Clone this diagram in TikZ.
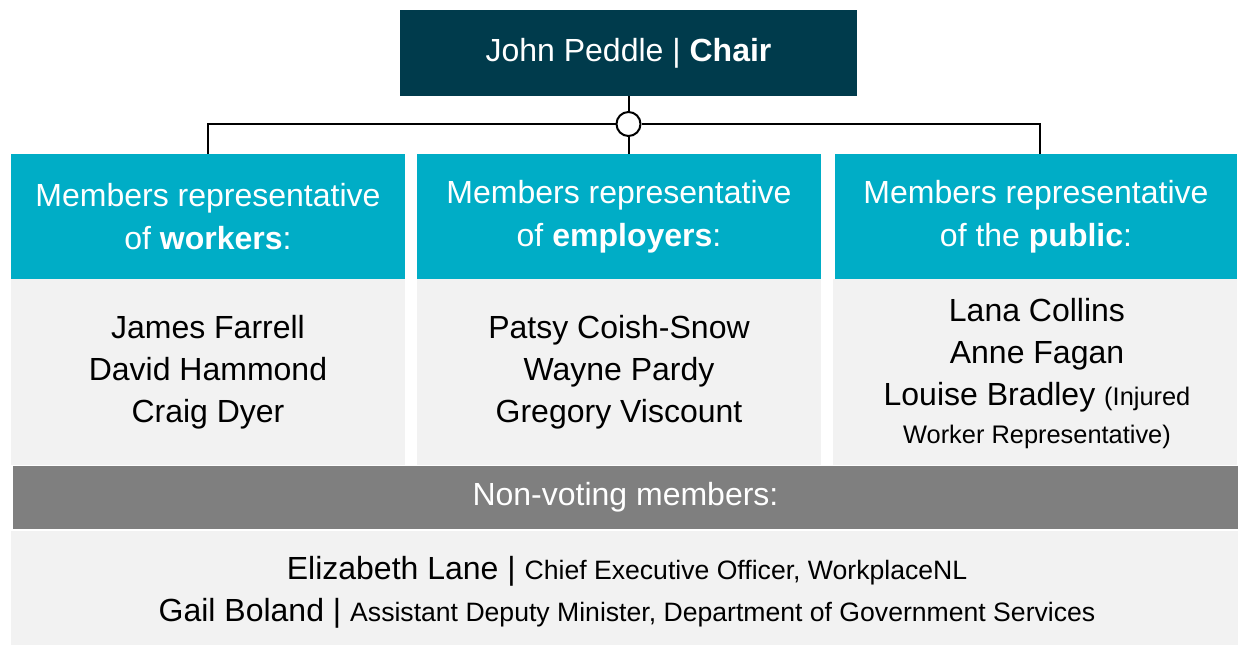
\documentclass[tikz,border=0pt]{standalone}
\usepackage{fontspec}
\setmainfont{Liberation Sans}
\usepackage{tikz}
\usetikzlibrary{
    positioning,
    calc
}

\definecolor{chairblue}{RGB}{0,59,76}
\definecolor{groupteal}{RGB}{0,173,198}
\definecolor{bargray}{RGB}{127,127,127}
\definecolor{panelgray}{RGB}{242,242,242}

\newcommand{\bigtext}{\fontsize{16}{21}\selectfont}
\newcommand{\smalltext}{\fontsize{12.7}{17}\selectfont}
\newcommand{\roletext}{\fontsize{13.3}{17}\selectfont}

\begin{document}
\begin{tikzpicture}[
  x=0.5pt,
  y=-0.5pt,
  every node/.style={align=center},
  chairbox/.style={
    fill=chairblue,
    text=white,
    font=\bigtext,
    minimum width=228.5pt,
    minimum height=43pt,
    inner sep=0pt
  },
  headbox/.style={
    fill=groupteal,
    text=white,
    font=\fontsize{16}{21.5}\selectfont,
    minimum height=62.5pt,
    inner sep=0pt
  },
  namebox/.style={
    fill=panelgray,
    text=black,
    font=\bigtext,
    minimum height=93pt,
    inner sep=0pt
  },
  barbox/.style={
    fill=bargray,
    text=white,
    font=\bigtext,
    minimum width=612.5pt,
    minimum height=31.5pt,
    inner sep=0pt
  },
  hubdot/.style={
    circle,
    draw,
    fill=white,
    line width=1pt,
    minimum size=12pt,
    inner sep=0pt
  },
  wire/.style={line width=1pt}
]
  \useasboundingbox (0,0) rectangle (1238,645);

  % Chair and the connector hub under it.
  \node[chairbox] (chair) at (628.5,53) {John Peddle | \textbf{Chair}};
  \node[hubdot] (hub) at (628.5,124) {};

  % Three voting groups: heading and member names.
  \node[headbox, minimum width=197pt] (workers) at (208,216.5)
    {Members representative\\of \textbf{workers}:};
  \node[headbox, minimum width=202pt] (employers) at (619,216.5)
    {Members representative\\of \textbf{employers}:};
  \node[headbox, minimum width=201pt] (public) at (1036,216.5)
    {Members representative\\of the \textbf{public}:};

  \node[namebox, minimum width=197pt] (workernames) at (208,372)
    {James Farrell\\David Hammond\\Craig Dyer};
  \node[namebox, minimum width=202pt] (employernames) at (619,372)
    {Patsy Coish-Snow\\Wayne Pardy\\Gregory Viscount};
  \node[namebox, minimum width=202pt, text depth=0pt] (publicnames) at (1035,372)
    {};
  \node[text=black, font=\bigtext, inner sep=0pt] (publiclist) at (1037,374)
    {Lana Collins\\Anne Fagan\\Louise Bradley {\smalltext (Injured}\\[-2pt]
     {\smalltext Worker Representative)}};

  % Non-voting members along the bottom.
  \node[barbox] (nonvoting) at (625.5,497.5) {Non-voting members:};
  \node[namebox, minimum width=613.5pt, minimum height=57pt] (nonvotingnames) at (624.5,588)
    {};
  \node[text=black, font=\bigtext, inner sep=0pt] (nonvotinglist) at (627,592)
    {Elizabeth Lane | {\roletext Chief Executive Officer, WorkplaceNL}\\
     Gail Boland | {\roletext Assistant Deputy Minister, Department of Government Services}};

  % Connectors from the chair down to each group.
  \coordinate (busleft) at (208,124);
  \coordinate (busright) at (1040,124);
  \draw[wire] (chair.south) -- (hub.north);
  \draw[wire] (hub.west) -- (busleft) -- (busleft |- workers.north);
  \draw[wire] (hub.east) -- (busright) -- (busright |- public.north);
  \draw[wire] (hub.south) -- (hub.south |- employers.north);
\end{tikzpicture}
\end{document}
